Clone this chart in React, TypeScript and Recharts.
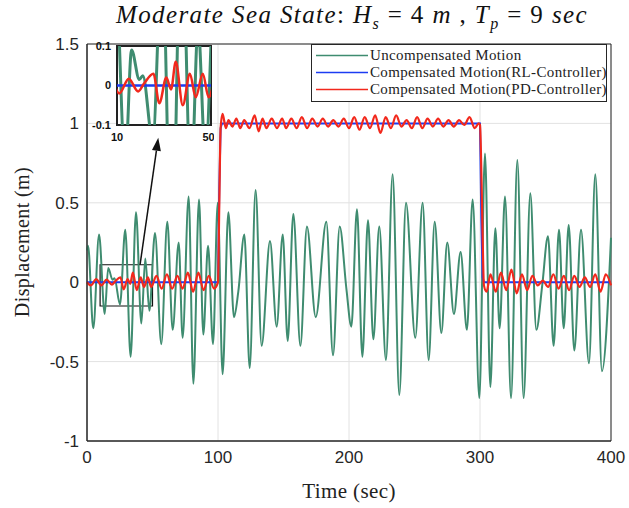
import React from 'react';
import { LineChart, Line, XAxis, YAxis, CartesianGrid, ReferenceArea, ReferenceLine } from 'recharts';

// axis ticks
const xTicks = [0, 100, 200, 300, 400];
const yTicks = [-1, -0.5, 0, 0.5, 1, 1.5];
const insetXTicks = [10, 50];
const insetYTicks = [-0.1, 0, 0.1];

const seriesNames = [
  'Uncompensated Motion',
  'Compensated Motion(RL-Controller)',
  'Compensated Motion(PD-Controller)',
];
const seriesColors = ['#3f8c70', '#1c3cf2', '#f2281c'];

// [time (sec), displacement (m)] (turning points)
const uncompensated: [number, number][] = [
  [0, 0.2], [0.8, 0.23], [4.8, -0.29], [9.2, 0.3], [13.5, -0.2], [16.2, 0.09], [19.5, 0.015], [21, 0.025],
  [25.2, -0.14], [29.2, 0.33], [33.3, -0.47], [37.4, 0.44], [41.5, -0.26], [44.5, 0.15], [47.6, -0.18],
  [51.9, 0.31], [56.7, -0.39], [61.3, 0.38], [65.4, -0.3], [70, 0.25], [73, -0.35], [77.6, 0.54],
  [81.2, -0.64], [85.5, 0.52], [88.8, -0.33], [92.4, 0.23], [96.2, -0.39], [99.8, 0.5], [103.5, -0.58],
  [107.9, 0.44], [112.2, -0.22], [115.5, -0.06], [120.1, 0.3], [124.2, -0.54], [128.7, 0.58], [133.3, -0.4],
  [139.7, 0.26], [144.8, -0.28], [149.4, 0.3], [153.2, -0.37], [157.5, 0.43], [162.9, -0.4], [167.9, 0.35],
  [174.6, -0.22], [182.7, 0.38], [187.8, -0.46], [192.9, 0.35], [198, -0.04], [201.8, -0.28], [206.1, 0.46],
  [210.2, -0.47], [214.5, 0.39], [218.6, -0.36], [223.1, 0.35], [228.2, -0.49], [233.3, 0.68], [238.4, -0.71],
  [243.5, 0.5], [250.6, -0.35], [256.2, 0.5], [260.8, -0.49], [265.4, 0.38], [270.5, -0.32], [275, 0.25],
  [280.1, -0.2], [285.2, 0.19], [290, -0.3], [294.4, 0.52], [299.5, -0.73], [303.8, 0.81], [307.9, -0.66],
  [311.7, 0.34], [315, -0.29], [319.1, 0.54], [323.7, -0.73], [328.5, 0.77], [333.3, -0.73], [338.4, 0.56],
  [343, -0.3], [347.5, -0.02], [351.9, 0.29], [356.2, -0.4], [360.3, 0.33], [363.9, -0.29], [367.7, 0.36],
  [372, -0.43], [377.1, 0.33], [383.2, -0.51], [388, 0.68], [393.1, -0.56], [400, 0.28],
];

const rlController: [number, number][] = [
  [0, 0], [100, 0], [101, 0.6], [102, 0.97], [103, 1], [300, 1], [301, 0.4], [302, 0.03], [303, 0], [400, 0],
];

const pdController: [number, number][] = [
  [0, 0], [3, -0.02], [7, 0.02], [11, -0.02], [15, 0.017], [19, -0.015], [21.5, 0.005], [25.5, 0.03],
  [28, -0.045], [31, 0.02], [33, -0.01], [35, 0.06], [38, -0.05], [41, 0.03], [43.5, -0.03], [46.5, 0.03],
  [49, -0.03], [53, 0.04], [57, -0.04], [61, 0.05], [65, -0.04], [69, 0.04], [73, -0.04], [77, 0.06],
  [81, -0.06], [85, 0.06], [89, -0.05], [93, 0.04], [97, -0.04], [100, 0], [101, 0.5], [102, 0.97],
  [103.5, 1.06], [106, 0.97], [108, 1.02], [111, 0.98], [114, 1.03], [117, 0.97], [120, 1.02], [124, 0.97],
  [128, 1.05], [131, 0.95], [134, 1.03], [137, 0.97], [141, 1.03], [145, 0.97], [149, 1.03], [152, 0.97],
  [156, 1.03], [160, 0.97], [164, 1.04], [168, 0.97], [172, 1.03], [176, 0.98], [180, 1.03], [184, 0.98],
  [188, 1.02], [192, 0.98], [196, 1.03], [200, 0.97], [204, 1.04], [208, 0.96], [212, 1.04], [216, 0.97],
  [220, 1.05], [224, 0.94], [228, 1.04], [232, 0.97], [236, 1.05], [240, 0.98], [244, 1.02], [248, 0.97],
  [252, 1.04], [256, 0.97], [260, 1.03], [264, 0.98], [268, 1.03], [272, 0.98], [276, 1.02], [280, 0.98],
  [284, 1.02], [288, 0.99], [292, 1.04], [296, 0.97], [299, 1.0], [300, 0.99], [301.5, 0.5], [303, -0.02],
  [305, -0.06], [308, 0.05], [312, -0.06], [316, 0.06], [320, -0.05], [324, 0.08], [328, -0.07], [332, 0.05],
  [336, -0.05], [340, 0.04], [344, -0.02], [348, 0.01], [352, -0.03], [356, 0.05], [360, -0.04], [364, 0.04],
  [368, -0.05], [372, 0.04], [376, -0.03], [380, 0.03], [384, -0.03], [388, 0.05], [392, -0.06], [396, 0.05],
  [400, -0.02],
];

const toRows = (pts: [number, number][]) => pts.map(([t, v]) => ({ t, v }));
const greenRows = toRows(uncompensated);
const blueRows = toRows(rlController);
const redRows = toRows(pdController);

const Arrow = (props: any) => {
  const { x1, y1, x2, y2 } = props;
  const ang = Math.atan2(y2 - y1, x2 - x1);
  const len = 13;
  const w = 4.5;
  const bx = x2 - len * Math.cos(ang);
  const by = y2 - len * Math.sin(ang);
  const px = -Math.sin(ang) * w;
  const py = Math.cos(ang) * w;
  return (
    <g>
      <line x1={x1} y1={y1} x2={bx} y2={by} stroke="#111" strokeWidth={1.5} />
      <polygon points={`${x2},${y2} ${bx + px},${by + py} ${bx - px},${by - py}`} fill="#111" />
    </g>
  );
};

const tickFont = { fontSize: 17, fontFamily: 'Liberation Sans, Arial', fill: '#262626' };
const insetTickFont = { fontSize: 11, fontFamily: 'Liberation Sans, Arial', fontWeight: 700, fill: '#111' };
const serif = '"Liberation Serif", "DejaVu Serif", serif';

export default function App() {
  return (
    <div style={{ position: 'absolute', left: 0, top: 0, width: 629, height: 508, background: '#fff', overflow: 'hidden' }}>
      <div style={{ position: 'absolute', left: 90, top: 1, width: 524, textAlign: 'center', fontFamily: serif, fontSize: 25, letterSpacing: 1.4, color: '#111', whiteSpace: 'nowrap' }}>
        <i>Moderate Sea State</i>: <i>H</i><sub style={{ fontSize: 16 }}><i>s</i></sub> = 4 <i>m</i> , <i>T</i><sub style={{ fontSize: 16 }}><i>p</i></sub> = 9 <i>sec</i>
      </div>

      <LineChart width={629} height={508} data={greenRows} margin={{ top: 44, right: 18, bottom: 27, left: 0 }}>
        <CartesianGrid stroke="#e2e2e2" strokeWidth={1} />
        <XAxis
          dataKey="t"
          type="number"
          domain={[0, 400]}
          ticks={xTicks}
          height={40}
          tickLine={false}
          tickMargin={4}
          axisLine={{ stroke: '#262626' }}
          tick={tickFont}
        />
        <YAxis
          type="number"
          domain={[-1, 1.5]}
          ticks={yTicks}
          width={87}
          tickLine={false}
          axisLine={{ stroke: '#262626' }}
          tick={tickFont}
        />
        <Line data={greenRows} dataKey="v" type="monotone" stroke={seriesColors[0]} strokeWidth={2} dot={false} isAnimationActive={false} />
        <Line data={blueRows} dataKey="v" type="linear" stroke={seriesColors[1]} strokeWidth={2} dot={false} isAnimationActive={false} />
        <Line data={redRows} dataKey="v" type="monotone" stroke={seriesColors[2]} strokeWidth={2.2} dot={false} isAnimationActive={false} />
        <ReferenceArea x1={10} x2={50} y1={-0.15} y2={0.11} fill="none" stroke="#111" strokeWidth={1.2} fillOpacity={0} />
        <ReferenceArea x1={0} x2={400} y1={-1} y2={1.5} fill="none" stroke="#262626" strokeWidth={1} fillOpacity={0} />
        <ReferenceLine segment={[{ x: 40.5, y: 0.11 }, { x: 54.4, y: 0.91 }]} shape={Arrow} />
      </LineChart>

      {/* inset zoom of 10-50 s */}
      <div style={{ position: 'absolute', left: 117, top: 46, width: 94, height: 79, background: '#fff' }} />
      <div style={{ position: 'absolute', left: 84, top: 40 }}>
        <LineChart width={130} height={110} data={greenRows} margin={{ top: 6, right: 3, bottom: 0, left: 0 }}>
          <XAxis
            dataKey="t"
            type="number"
            domain={[10, 50]}
            ticks={insetXTicks}
            allowDataOverflow
            height={25}
            tickLine={false}
            axisLine={false}
            tickMargin={2}
            tick={insetTickFont}
          />
          <YAxis
            type="number"
            domain={[-0.1, 0.1]}
            ticks={insetYTicks}
            allowDataOverflow
            width={33}
            tickLine={false}
            axisLine={false}
            tickMargin={0}
            tick={insetTickFont}
          />
          <Line data={greenRows} dataKey="v" type="monotone" stroke={seriesColors[0]} strokeWidth={3} dot={false} isAnimationActive={false} />
          <Line data={blueRows} dataKey="v" type="linear" stroke={seriesColors[1]} strokeWidth={2.5} dot={false} isAnimationActive={false} />
          <Line data={redRows} dataKey="v" type="monotone" stroke={seriesColors[2]} strokeWidth={2.5} dot={false} isAnimationActive={false} />
          <ReferenceArea x1={10} x2={50} y1={-0.1} y2={0.1} fill="none" stroke="#222" strokeWidth={2} fillOpacity={0} />
        </LineChart>
      </div>

      {/* legend */}
      <div style={{ position: 'absolute', left: 311, top: 44, width: 296, height: 58, border: '1px solid #262626', background: '#fff', boxSizing: 'border-box', paddingTop: 2 }}>
        {seriesNames.map((name, i) => (
          <div key={name} style={{ display: 'flex', alignItems: 'center', height: 17 }}>
            <svg width={58} height={17} style={{ flexShrink: 0 }}>
              <line x1={4} x2={56} y1={8.5} y2={8.5} stroke={seriesColors[i]} strokeWidth={1.6} />
            </svg>
            <span style={{ fontFamily: serif, fontSize: 15, letterSpacing: 0.35, color: '#222', whiteSpace: 'nowrap' }}>{name}</span>
          </div>
        ))}
      </div>

      <div style={{ position: 'absolute', left: 22, top: 242, transform: 'translate(-50%, -50%) rotate(-90deg)', fontFamily: serif, fontSize: 20, letterSpacing: 0.4, color: '#222', whiteSpace: 'nowrap' }}>
        Displacement (m)
      </div>
      <div style={{ position: 'absolute', left: 349, top: 491, transform: 'translate(-50%, -50%)', fontFamily: serif, fontSize: 21, letterSpacing: 0.4, color: '#222', whiteSpace: 'nowrap' }}>
        Time (sec)
      </div>
    </div>
  );
}
